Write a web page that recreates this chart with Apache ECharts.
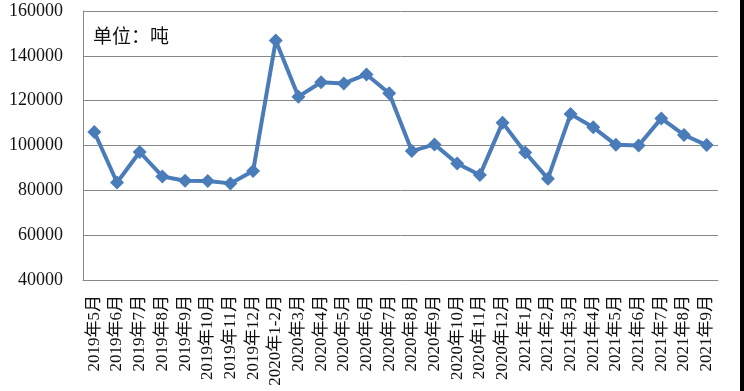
<!DOCTYPE html>
<html>
<head>
<meta charset="utf-8">
<script src="https://cdn.jsdelivr.net/npm/echarts@6/dist/echarts.min.js"></script>
<style>
html,body{margin:0;padding:0;background:#fff;}
#chart{width:744px;height:391px;}
</style>
</head>
<body>
<div id="chart"></div>
<script>
var categories = ["2019年5月","2019年6月","2019年7月","2019年8月","2019年9月","2019年10月","2019年11月","2019年12月","2020年1-2月","2020年3月","2020年4月","2020年5月","2020年6月","2020年7月","2020年8月","2020年9月","2020年10月","2020年11月","2020年12月","2021年1月","2021年2月","2021年3月","2021年4月","2021年5月","2021年6月","2021年7月","2021年8月","2021年9月"];
var values = [106000,83500,97100,86200,84300,84200,83100,88600,146800,121800,128200,127700,131700,123300,97500,100500,92000,86800,110200,96900,85200,114000,108100,100300,100000,112100,104700,100200];
var yMin = 40000, yMax = 160000, yStep = 20000;
var unitText = "单位：吨";

var chart = echarts.init(document.getElementById('chart'), null, {renderer:'canvas'});
var serif = '"Liberation Serif","Times New Roman","Noto Sans CJK SC",serif';
chart.setOption({
  animation:false,
  backgroundColor:'#ffffff',
  grid:{left:83,right:26,top:11,bottom:111},
  title:{text:unitText,left:88,top:21,textStyle:{fontFamily:'"Noto Sans CJK SC",sans-serif',fontSize:19,fontWeight:'normal',color:'#111'}},
  xAxis:{
    type:'category',data:categories,boundaryGap:true,
    axisLine:{show:true,lineStyle:{color:'#888',width:1}},
    axisTick:{show:false},
    axisLabel:{rotate:90,interval:0,margin:15,fontFamily:serif,fontSize:17,color:'#111'}
  },
  yAxis:{
    type:'value',min:yMin,max:yMax,interval:yStep,
    axisLine:{show:true,lineStyle:{color:'#888',width:1}},
    axisTick:{show:false},
    splitLine:{show:true,lineStyle:{color:'#888',width:1}},
    axisLabel:{margin:20,fontFamily:serif,fontSize:18,color:'#111',formatter:function(v){return String(v);}}
  },
  series:[{
    type:'line',data:values,
    lineStyle:{color:'#4a7cb9',width:4},
    itemStyle:{color:'#4a7cb9'},
    symbol:'diamond',symbolSize:14,showSymbol:true
  }],
  graphic:[{type:'rect',shape:{x:740,y:0,width:4,height:391},style:{fill:'#000'}}]
});
</script>
</body>
</html>
